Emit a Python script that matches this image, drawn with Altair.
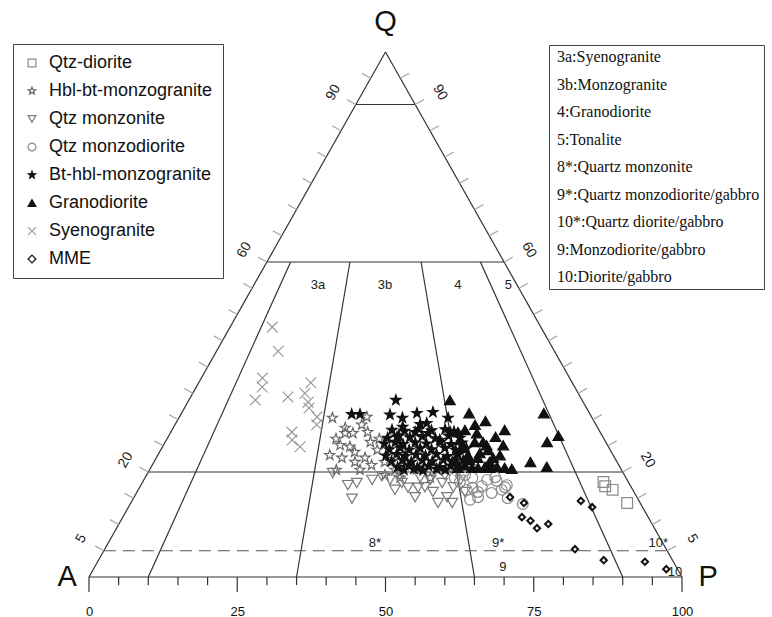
import altair as alt
import pandas as pd

# ---------------- data (ternary Q-A-P, values in %) ----------------
groups = ["Qtz-diorite", "Hbl-bt-monzogranite", "Qtz monzonite", "Qtz monzodiorite",
          "Bt-hbl-monzogranite", "Granodiorite", "Syenogranite", "MME"]

qtz_diorite_P = [77.7, 78.4, 80.0, 83.7]
qtz_diorite_Q = [18.1, 17.3, 16.6, 14.1]

hbl_bt_P = [25.9, 31.6, 28.5, 29.8, 29.5, 31.6, 30.8, 32.9, 33.9, 35.2, 33.2, 34.6, 35.8, 36.5,
            31.5, 29.0, 31.5, 29.0, 31.3, 35.5, 37.0, 38.9, 41.4, 42.6, 45.0, 46.2, 48.6, 50.5,
            39.1, 43.0, 48.1, 40.2, 51.6]
hbl_bt_Q = [30.3, 30.5, 26.3, 25.1, 27.4, 24.8, 27.4, 23.8, 21.9, 22.7, 27.6, 25.7, 26.3, 24.2,
            20.4, 28.4, 29.0, 23.2, 22.7, 20.4, 21.3, 21.9, 20.4, 21.3, 20.5, 20.8, 20.4, 20.6,
            23.2, 18.9, 18.9, 19.4, 20.8]

qtz_monzonite_P = [31.2, 34.9, 36.2, 36.9, 39.8, 41.5, 43.3, 43.8, 45.3, 47.4, 47.0, 48.1, 49.9,
                   51.8, 54.2, 52.8, 48.3, 50.6, 52.9, 38.5, 42.7, 46.4, 50.3, 53.4, 55.3]
qtz_monzonite_Q = [19.8, 17.5, 17.9, 14.9, 19.2, 18.5, 16.6, 17.9, 17.0, 15.2, 17.0, 17.1, 16.2,
                   14.1, 14.1, 15.2, 18.5, 17.9, 17.1, 18.5, 19.4, 18.9, 19.4, 18.5, 16.2]

qtz_monzodiorite_P = [53.7, 55.2, 57.9, 59.0, 56.2, 57.5, 59.9, 61.3, 61.7, 63.1, 56.9, 58.0,
                      61.6, 66.2, 55.4, 57.6, 53.5, 59.6, 52.2]
qtz_monzodiorite_Q = [19.4, 18.9, 18.5, 19.0, 17.0, 16.2, 16.0, 16.6, 17.5, 15.0, 14.7, 15.2,
                      17.1, 13.9, 16.6, 17.3, 18.1, 18.3, 18.9]

bt_hbl_P = [28.8, 30.2, 34.9, 35.3, 37.7, 39.7, 42.3, 45.4, 38.6, 41.3, 42.3, 41.2, 43.5, 47.1,
            38.6, 46.1,
            37.1, 39.3, 41.5, 43.8, 46.0, 47.7,
            37.1, 38.8, 40.8, 42.8, 45.2, 47.2, 49.3,
            37.1, 38.8, 40.3, 42.2, 44.2, 46.4, 48.4, 50.1,
            38.5, 40.2, 41.9, 43.6, 45.6, 47.7, 49.7, 51.4,
            38.5, 40.2, 41.8, 43.5, 45.2, 46.9, 48.9, 50.6,
            40.0, 41.7, 43.4, 45.1, 46.9, 48.6, 50.3, 52.0,
            41.6, 43.3, 45.0, 46.7, 48.7, 50.4, 52.1,
            42.9, 44.5, 46.2, 48.3, 49.9]
bt_hbl_Q = [31.0, 31.0, 33.7, 30.9, 30.3, 31.2, 31.4, 30.3, 28.6, 29.1, 29.3, 27.6, 27.4, 27.6,
            26.7, 26.1,
            28.0, 27.8, 28.2, 27.9, 28.1, 27.7,
            26.5, 26.9, 26.6, 26.8, 26.4, 26.9, 26.5,
            25.4, 25.7, 25.3, 25.6, 25.4, 25.7, 25.3, 25.6,
            24.3, 24.6, 24.2, 24.5, 24.3, 24.6, 24.2, 24.5,
            23.1, 23.4, 23.0, 23.3, 23.1, 23.4, 23.0, 23.3,
            22.0, 22.3, 21.9, 22.2, 22.0, 22.3, 21.9, 22.2,
            20.9, 21.2, 20.8, 21.1, 20.9, 21.2, 20.8,
            20.4, 20.6, 20.3, 20.6, 20.4]

granodiorite_P = [44.0, 48.5, 52.0, 61.1, 56.1, 65.7, 64.4, 55.2, 57.3, 63.5, 66.7, 61.0, 51.7,
                  49.4, 48.4, 50.6, 52.2, 54.5, 53.6, 55.2, 54.1, 52.3, 56.8, 58.3, 56.3, 54.2,
                  50.6, 50.6, 52.7, 57.7, 57.2, 59.7, 55.2, 51.8, 53.0, 56.6, 54.2, 49.5]
granodiorite_Q = [33.7, 31.2, 29.7, 31.2, 28.0, 26.9, 25.7, 26.7, 25.1, 21.9, 21.0, 20.6, 27.4,
                  28.0, 27.6, 29.0, 25.7, 25.1, 25.7, 24.2, 23.6, 23.2, 22.7, 21.0, 21.0, 20.8,
                  24.6, 22.3, 21.3, 23.2, 20.8, 20.8, 20.8, 20.8, 22.3, 21.9, 22.7, 26.1]

syenogranite_P = [7.1, 10.4, 10.3, 11.1, 11.2, 16.4, 18.9, 18.9, 20.3, 21.0, 23.2, 23.9, 20.4,
                  21.2, 23.2]
syenogranite_Q = [47.6, 43.0, 37.9, 36.2, 33.7, 34.3, 37.0, 35.0, 33.3, 32.2, 30.5, 29.0, 27.6,
                  26.1, 24.8]

mme_P = [63.4, 66.3, 67.3, 69.1, 70.9, 72.4, 75.7, 78.2, 79.3, 85.2, 92.3, 96.6]
mme_Q = [15.2, 14.1, 11.4, 10.7, 9.3, 10.1, 14.5, 13.3, 5.3, 3.2, 2.9, 1.5]

# Streckeisen QAP field boundaries
q_boundaries = [90, 60, 20]
q_dashed = 5
pa_ratios = [10, 35, 65, 90]          # 100*P/(A+P)
side_ticks = list(range(5, 100, 5))
side_labels = [90, 60, 20, 5]
base_ticks = list(range(0, 101, 5))
base_major = [0, 25, 50, 75, 100]

field_names = ["3a:Syenogranite", "3b:Monzogranite", "4:Granodiorite", "5:Tonalite",
               "8*:Quartz monzonite", "9*:Quartz monzodiorite/gabbro", "10*:Quartz diorite/gabbro",
               "9:Monzodiorite/gabbro", "10:Diorite/gabbro"]

field_text = ["3a", "3b", "4", "5", "8*", "9*", "10*", "9", "10"]
field_x = [38.6, 49.9, 62.2, 70.7, 48.2, 69.0, 96.0, 69.8, 98.8]
field_y = [55.6, 55.6, 55.6, 55.6, 6.5, 6.5, 6.5, 1.9, 1.0]

vertex_text = ["A", "P", "Q"]

# ---------------- build tables ----------------
order = [("Syenogranite", syenogranite_P, syenogranite_Q),
         ("Hbl-bt-monzogranite", hbl_bt_P, hbl_bt_Q),
         ("Qtz monzonite", qtz_monzonite_P, qtz_monzonite_Q),
         ("Qtz monzodiorite", qtz_monzodiorite_P, qtz_monzodiorite_Q),
         ("Qtz-diorite", qtz_diorite_P, qtz_diorite_Q),
         ("Bt-hbl-monzogranite", bt_hbl_P, bt_hbl_Q),
         ("Granodiorite", granodiorite_P, granodiorite_Q),
         ("MME", mme_P, mme_Q)]
rows = []
for g, Ps, Qs in order:
    for p, q in zip(Ps, Qs):
        rows.append({"group": g, "P": p, "Q": q, "x": p + q / 2.0, "y": q})
pts = pd.DataFrame(rows)
pts_main = pts[pts["group"] != "MME"]
pts_mme = pts[pts["group"] == "MME"]

seg = []
seg.append({"x": 0, "y": 0, "x2": 100, "y2": 0})
seg.append({"x": 0, "y": 0, "x2": 50, "y2": 100})
seg.append({"x": 100, "y": 0, "x2": 50, "y2": 100})
for q in q_boundaries:
    seg.append({"x": q / 2.0, "y": q, "x2": 100 - q / 2.0, "y2": q})
for r in pa_ratios:
    seg.append({"x": 30 + 0.4 * r, "y": 60, "x2": r, "y2": 0})
seg = pd.DataFrame(seg)
dash = pd.DataFrame([{"x": q_dashed / 2.0, "y": q_dashed, "x2": 100 - q_dashed / 2.0, "y2": q_dashed}])

ticks = []
for q in side_ticks:
    ticks.append({"x": q / 2.0, "y": q, "x2": q / 2.0 - 1.47, "y2": q + 0.93})
    ticks.append({"x": 100 - q / 2.0, "y": q, "x2": 100 - q / 2.0 + 1.47, "y2": q + 0.93})
ticks = pd.DataFrame(ticks)
# bottom scale ticks: short every 5, long at multiples of 25
btick = pd.DataFrame({"x": base_ticks, "y": [0.0] * len(base_ticks),
                      "y2": [-2.85 if v in base_major else -1.55 for v in base_ticks]})

left_lab = pd.DataFrame({"x": [q / 2.0 - 3.8 for q in side_labels],
                         "y": [q + 2.3 for q in side_labels],
                         "t": [str(q) for q in side_labels]})
right_lab = pd.DataFrame({"x": [100 - q / 2.0 + 4.2 for q in side_labels],
                          "y": [q + 2.3 for q in side_labels],
                          "t": [str(q) for q in side_labels]})
fields = pd.DataFrame({"x": field_x, "y": field_y, "t": field_text})
verts = pd.DataFrame({"x": [-3.7, 104.4, 50.0], "y": [0.0, 0.0, 105.8], "t": vertex_text})
names = pd.DataFrame({"field": field_names})

# ---------------- encodings ----------------
xs = alt.Scale(domain=[0, 100], nice=False, zero=False)
ys = alt.Scale(domain=[0, 100], nice=False, zero=False)
xaxis = alt.Axis(values=base_major, title=None, domain=False, grid=False,
                 tickSize=8, tickColor="#333", tickWidth=1.2, tickOpacity=0,
                 labelFont="Liberation Sans", labelFontSize=13,
                 labelColor="#111", labelPadding=20, labelOverlap=False, labelFlush=False)


def X(f="x"):
    return alt.X(f"{f}:Q", scale=xs, axis=xaxis)


def Y(f="y"):
    return alt.Y(f"{f}:Q", scale=ys, axis=None)


STAR = ("M0,-1L0.235,-0.324L0.951,-0.309L0.38,0.124L0.588,0.809L0,0.4L-0.588,0.809"
        "L-0.38,0.124L-0.951,-0.309L-0.235,-0.324Z")
XMARK = "M-1,-1L1,1M-1,1L1,-1"

shape_range = ["square", STAR, "triangle-down", "circle", STAR, "triangle-up", XMARK, "diamond"]
fill_range = ["transparent", "transparent", "transparent", "transparent", "#111", "#111",
              "transparent", "transparent"]
stroke_range = ["#8a8a8a", "#666666", "#7a7a7a", "#8a8a8a", "#111111", "#111111", "#9a9a9a", "#111111"]

legend1 = alt.Legend(title=None, orient="none", legendX=-76, legendY=-8,
                     strokeColor="#444", fillColor="white", padding=10,
                     labelFont="Liberation Sans", labelFontSize=18, labelColor="#111",
                     symbolSize=60, symbolStrokeWidth=1.2, rowPadding=10, labelOffset=8,
                     labelLimit=400)

shape_enc = alt.Shape("group:N", scale=alt.Scale(domain=groups, range=shape_range), legend=legend1)
fill_enc = alt.Fill("group:N", scale=alt.Scale(domain=groups, range=fill_range), legend=legend1)
stroke_enc = alt.Stroke("group:N", scale=alt.Scale(domain=groups, range=stroke_range), legend=legend1)

lines = alt.Chart(seg).mark_rule(color="#333", strokeWidth=1.2).encode(
    x=X(), y=Y(), x2="x2:Q", y2="y2:Q")
dashed = alt.Chart(dash).mark_rule(color="#555", strokeWidth=1.2, strokeDash=[12, 7]).encode(
    x=X(), y=Y(), x2="x2:Q", y2="y2:Q")
sticks = alt.Chart(ticks).mark_rule(color="#aaa", strokeWidth=1.2).encode(
    x=X(), y=Y(), x2="x2:Q", y2="y2:Q")
bticks = alt.Chart(btick).mark_rule(color="#333", strokeWidth=1.2).encode(
    x=X(), y=Y(), y2="y2:Q")

points = alt.Chart(pts_main).mark_point(opacity=1, size=115, strokeWidth=1.2).encode(
    x=X(), y=Y(), shape=shape_enc, fill=fill_enc, stroke=stroke_enc)
points_mme = alt.Chart(pts_mme).mark_point(opacity=1, size=40, strokeWidth=2).encode(
    x=X(), y=Y(), shape=shape_enc, fill=fill_enc, stroke=stroke_enc)

legend2 = alt.Legend(title=None, orient="none", legendX=460, legendY=-7,
                     strokeColor="#444", fillColor="white", padding=4,
                     labelFont="Liberation Serif", labelFontSize=16, labelColor="#111",
                     symbolSize=0, symbolOpacity=0, symbolStrokeWidth=0, rowPadding=11.5,
                     labelOffset={"expr": "-12"}, labelLimit=400)
names_layer = alt.Chart(names).mark_point(opacity=0).encode(
    strokeDash=alt.StrokeDash("field:N", scale=alt.Scale(domain=field_names), legend=legend2))

lt = alt.Chart(left_lab).mark_text(font="Liberation Sans", fontSize=14, color="#222", angle=300).encode(
    x=X(), y=Y(), text="t:N")
rt = alt.Chart(right_lab).mark_text(font="Liberation Sans", fontSize=14, color="#222", angle=60).encode(
    x=X(), y=Y(), text="t:N")
ft = alt.Chart(fields).mark_text(font="Liberation Sans", fontSize=13, color="#222").encode(
    x=X(), y=Y(), text="t:N")
vt = alt.Chart(verts).mark_text(font="Liberation Sans", fontSize=29, color="#111").encode(
    x=X(), y=Y(), text="t:N")

chart = alt.layer(lines, dashed, sticks, bticks, lt, rt, ft, vt, points, points_mme, names_layer).properties(
    width=593, height=525,
    padding={"left": 89, "top": 52, "right": 90, "bottom": 40},
    autosize=alt.AutoSizeParams(type="none"),
).configure_view(strokeWidth=0)

chart.save("out.html", embed_options={"renderer": "svg", "actions": False})
